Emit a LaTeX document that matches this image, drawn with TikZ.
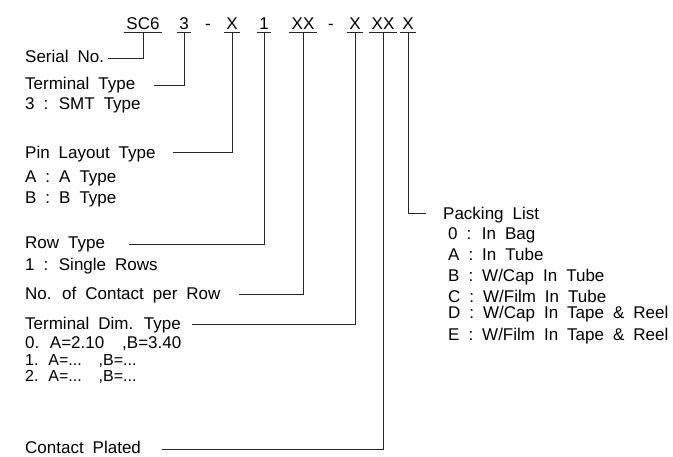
\documentclass[tikz,border=0pt]{standalone}
\usepackage{fontspec}
\setmainfont{Liberation Sans}[WordSpace=1.9]
\begin{document}
\begin{tikzpicture}[x=1pt,y=-1pt,
  font=\fontsize{17}{20}\selectfont,
  lbl/.style={anchor=base west, inner sep=0pt},
  small/.style={lbl, font=\fontsize{16}{18}\selectfont},
  code/.style={anchor=base, inner xsep=2.5pt, inner ysep=3pt, text depth=0pt},
  conn/.style={draw=black!85, line width=0.9pt},
  uline/.style={draw=black!85, line width=0.9pt}]
\useasboundingbox (0,0) rectangle (673,456);

% part number code
\node[code] (c1) at (143,29) {SC6};
\node[code] (c2) at (184,29) {3};
\node[code] (d1) at (208,29) {-};
\node[code] (c3) at (232,29) {X};
\node[code] (c4) at (264,29) {1};
\node[code] (c5) at (303,29) {XX};
\node[code] (d2) at (331,29) {-};
\node[code] (c6) at (355,29) {X};
\node[code] (c7) at (383,29) {XX};
\node[code] (c8) at (408,29) {X};
\foreach \n in {c1,c2,c3,c4,c5,c6,c7,c8}
  \draw[uline] (\n.south west) -- (\n.south east);

% left labels
\node[lbl] (l1) at (25,62) {Serial No.};
\node[lbl] (l2) at (25,89) {Terminal Type};
\node[lbl] (l2a) at (25,109) {3 : SMT Type};
\node[lbl] (l3) at (25,158) {Pin Layout Type};
\node[lbl] (l3a) at (25,182) {A : A Type};
\node[lbl] (l3b) at (25,203) {B : B Type};
\node[lbl] (l4) at (25,248) {Row Type};
\node[lbl] (l4a) at (25,270) {1 : Single Rows};
\node[lbl] (l5) at (25,299) {No. of Contact per Row};
\node[lbl] (l6) at (25,329) {Terminal Dim. Type};
\node[lbl] (l6a) at (25,348) {0. A=2.10\ \ ,B=3.40};
\node[small] (l6b) at (25,365) {1. A=...\ \ ,B=...};
\node[small] (l6c) at (25,381) {2. A=...\ \ ,B=...};
\node[lbl] (l7) at (25,453) {Contact Plated};

% right labels
\node[lbl] (l8) at (443,219) {Packing List};
\node[lbl] (l8a) at (448,239) {0 : In Bag};
\node[lbl] (l8b) at (448,260) {A : In Tube};
\node[lbl] (l8c) at (448,281) {B : W/Cap In Tube};
\node[lbl] (l8d) at (448,302) {C : W/Film In Tube};
\node[lbl] (l8e) at (448,318) {D : W/Cap In Tape \& Reel};
\node[lbl] (l8f) at (448,340) {E : W/Film In Tape \& Reel};

% connector ends
\coordinate (e1) at (108,58);
\coordinate (e2) at (154,85);
\coordinate (e3) at (173,152);
\coordinate (e4) at (129,244);
\coordinate (e5) at (239,294);
\coordinate (e6) at (192,324);
\coordinate (e7) at (162,449);
\coordinate (e8) at (426,213);

\draw[conn] (c1.south) |- (e1);
\draw[conn] (c2.south) |- (e2);
\draw[conn] (c3.south) |- (e3);
\draw[conn] (c4.south) |- (e4);
\draw[conn] (c5.south) |- (e5);
\draw[conn] (c6.south) |- (e6);
\draw[conn] (c7.south) |- (e7);
\draw[conn] (c8.south) |- (e8);
\end{tikzpicture}
\end{document}
